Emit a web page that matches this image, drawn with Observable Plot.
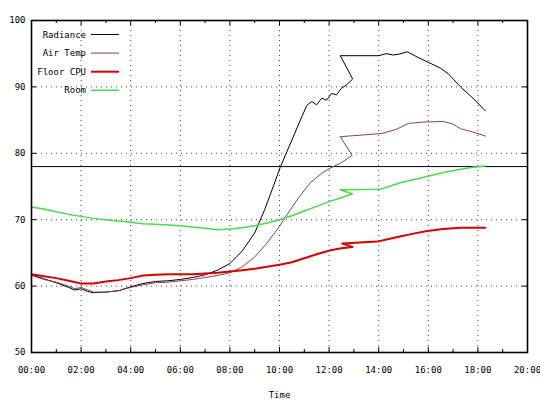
<!DOCTYPE html>
<html>
<head>
<meta charset="utf-8">
<script src="https://cdn.jsdelivr.net/npm/d3@7"></script>
<script src="https://cdn.jsdelivr.net/npm/@observablehq/plot@0.6"></script>
<style>
  html, body { margin: 0; padding: 0; background: #fff; }
  #wrap { position: relative; width: 540px; height: 403px; }
  #legend { position: absolute; left: 0; top: 0; pointer-events: none; }
</style>
</head>
<body>
<div id="wrap"></div>
<script>
// ---- data (hours since 00:00, degrees) ----
const seriesNames = ["Radiance", "Air Temp", "Floor CPU", "Room"];
const seriesColors = ["#000000", "#8e3f52", "#d80000", "#4cd84c"];
const seriesWidths = [1, 1, 2, 1.5];

const radianceTime = [0,0.5,1,1.5,1.75,2,2.25,2.5,3,3.5,4,4.5,5,5.5,6,6.5,7,7.5,8,8.5,9,9.4,9.7,10.04,10.5,10.9,11.1,11.3,11.5,11.7,11.9,12.1,12.3,12.5,12.7,12.95,12.45,14.0,14.3,14.6,14.9,15.15,15.5,16.0,16.5,16.8,17.3,17.8,18.3];
const radianceValue = [61.7,61.1,60.5,59.8,59.4,59.6,59.2,59.0,59.1,59.3,59.9,60.4,60.7,60.8,61.0,61.3,61.7,62.4,63.4,65.3,68.0,71.5,74.5,78.0,82.0,85.5,87.2,87.8,87.3,88.3,88.0,89.0,88.8,89.8,90.3,91.2,94.7,94.7,95.0,94.8,95.0,95.3,94.6,93.7,92.8,92.0,90.0,88.3,86.4];

const airTime = [0,0.5,1,1.5,1.75,2,2.5,3,3.5,4,4.5,5,5.5,6,6.5,7,7.5,8,8.5,9,9.5,10,10.24,10.75,11.25,11.7,12.06,12.5,12.93,12.45,13.5,14.15,14.7,15.2,15.8,16.6,17.0,17.3,17.8,18.3];
const airValue = [61.6,61.0,60.6,60.0,59.6,59.8,59.1,59.1,59.3,59.8,60.2,60.5,60.6,60.8,61.0,61.3,61.6,62.0,62.9,64.4,66.5,69.0,70.4,73.2,75.6,77.0,77.8,78.6,79.7,82.5,82.8,83.0,83.6,84.5,84.7,84.8,84.4,83.7,83.2,82.6];

const floorTime = [0,0.5,1,1.5,2,2.5,3,3.5,4,4.5,5,5.5,6,6.5,7,7.5,8,8.5,9,9.5,10,10.5,11,11.5,12.06,12.5,12.94,12.53,13.94,14.4,14.9,15.4,15.95,16.6,17.3,18.3];
const floorValue = [61.8,61.5,61.2,60.8,60.4,60.4,60.7,60.9,61.2,61.6,61.7,61.8,61.8,61.8,61.9,62.0,62.2,62.4,62.6,62.9,63.2,63.6,64.2,64.8,65.4,65.7,65.9,66.4,66.7,67.1,67.5,67.9,68.3,68.6,68.8,68.8];

const roomTime = [0,0.5,1,1.5,2,2.5,3,3.5,4,4.5,5,5.5,6,6.5,7,7.5,8,8.5,9,9.5,10,10.5,11,11.5,12.06,12.5,12.94,12.45,14.07,14.5,14.9,15.5,15.95,16.6,17.3,17.8,18.3];
const roomValue = [71.9,71.6,71.2,70.8,70.5,70.2,70.0,69.8,69.6,69.4,69.3,69.2,69.1,68.9,68.7,68.5,68.6,68.8,69.1,69.5,70.0,70.6,71.3,72.0,72.8,73.3,73.9,74.5,74.6,75.1,75.6,76.1,76.5,77.1,77.6,77.9,78.1];

const thresholdValues = [78];

const xTicks = [0,2,4,6,8,10,12,14,16,18,20];
const xTickLabels = ["00:00","02:00","04:00","06:00","08:00","10:00","12:00","14:00","16:00","18:00","20:00"];
const xMinorTicks = [1,3,5,7,9,11,13,15,17,19];
const yTicks = [50,60,70,80,90,100];
const xTitle = "Time";

// ---- build ----
const times = [radianceTime, airTime, floorTime, roomTime];
const values = [radianceValue, airValue, floorValue, roomValue];
const rows = [];
seriesNames.forEach((name, s) => {
  times[s].forEach((t, i) => rows.push({series: name, order: i, t, v: values[s][i]}));
});

const W = 540, H = 403;
const mL = 31, mR = 13, mT = 20, mB = 51;
const frameW = W - mL - mR, frameH = H - mT - mB;
const labelOf = new Map(xTicks.map((t, i) => [t, xTickLabels[i]]));

const lineMarks = seriesNames.map((name, s) =>
  Plot.line(rows.filter(r => r.series === name), {
    x: "t", y: "v", stroke: seriesColors[s], strokeWidth: seriesWidths[s],
    curve: "linear", strokeLinejoin: "round"
  })
);

const chart = Plot.plot({
  width: W, height: H,
  marginLeft: mL, marginRight: mR, marginTop: mT, marginBottom: mB,
  style: {fontFamily: "'DejaVu Sans Mono', monospace", fontSize: "9px", color: "#000", background: "#fff"},
  x: {domain: [0, 20]},
  y: {domain: [50, 100]},
  marks: [
    Plot.gridX(xTicks.slice(1, -1), {stroke: "#000", strokeOpacity: 0.75, strokeDasharray: "1,4"}),
    Plot.gridY(yTicks.slice(1, -1), {stroke: "#000", strokeOpacity: 0.75, strokeDasharray: "1,4"}),
    // inward ticks (gnuplot style)
    Plot.ruleX(xTicks, {x: d => d, insetTop: frameH - 5, stroke: "#000"}),
    Plot.ruleX(xTicks, {x: d => d, insetBottom: frameH - 5, stroke: "#000"}),
    Plot.ruleX(xMinorTicks, {x: d => d, insetTop: frameH - 3, stroke: "#000"}),
    Plot.ruleX(xMinorTicks, {x: d => d, insetBottom: frameH - 3, stroke: "#000"}),
    Plot.ruleY(yTicks, {y: d => d, insetRight: frameW - 5, stroke: "#000"}),
    Plot.ruleY(yTicks, {y: d => d, insetLeft: frameW - 5, stroke: "#000"}),
    Plot.ruleY(thresholdValues, {stroke: "#000", strokeWidth: 1}),
    ...lineMarks,
    Plot.frame({stroke: "#000", strokeWidth: 1.6}),
    Plot.axisX(xTicks, {tickSize: 0, tickPadding: 14, tickFormat: d => labelOf.get(d), label: null}),
    Plot.axisY(yTicks, {tickSize: 0, tickPadding: 6, label: null}),
    Plot.text([xTitle], {frameAnchor: "bottom", dy: 45, text: d => d})
  ]
});

const wrap = document.getElementById("wrap");
wrap.appendChild(chart);

// legend overlay (inside plot, top-left)
const leg = d3.select(wrap).append("svg")
  .attr("id", "legend").attr("width", W).attr("height", H)
  .style("font-family", "'DejaVu Sans Mono', monospace").style("font-size", "9px");
const rowY0 = 34.5, rowStep = 18.6, textRight = 86, lineX1 = 91, lineX2 = 119;
seriesNames.forEach((name, s) => {
  const y = rowY0 + s * rowStep;
  leg.append("text").attr("x", textRight).attr("y", y).attr("dy", "0.35em")
    .attr("text-anchor", "end").attr("fill", "#000").text(name);
  leg.append("line").attr("x1", lineX1).attr("x2", lineX2).attr("y1", y).attr("y2", y)
    .attr("stroke", seriesColors[s]).attr("stroke-width", seriesWidths[s]);
});
</script>
</body>
</html>
